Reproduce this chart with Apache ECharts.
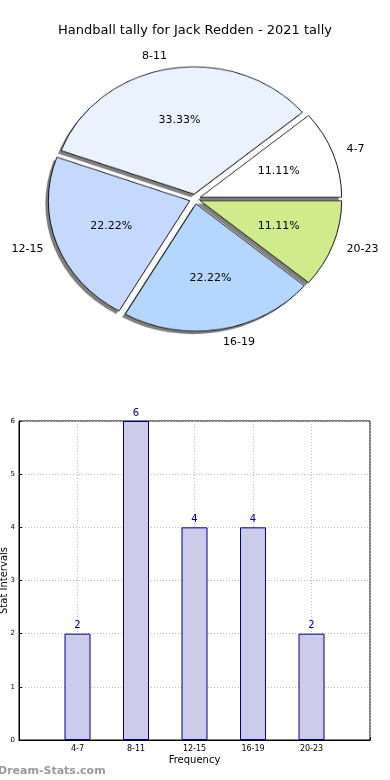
<!DOCTYPE html>
<html>
<head>
<meta charset="utf-8">
<script src="https://cdn.jsdelivr.net/npm/echarts@6/dist/echarts.min.js"></script>
<style>
html,body{margin:0;padding:0;background:#fff;}
#wrap{position:relative;width:390px;height:780px;overflow:hidden;}
#p{position:absolute;left:0;top:0;width:390px;height:400px;transform:scaleY(0.9);transform-origin:195px 199px;z-index:0;}
#c{position:absolute;left:0;top:0;width:390px;height:780px;z-index:1;}
</style>
</head>
<body>
<div id="wrap"><div id="p"></div><div id="c"></div></div>
<script>
var titleText = 'Handball tally for Jack Redden - 2021 tally';
var categories = ['4-7', '8-11', '12-15', '16-19', '20-23'];
var counts = [2, 6, 4, 4, 2];
var sliceColors = ['#ffffff', '#ebf2ff', '#c5d9ff', '#b5d7ff', '#d0eb8c'];
var yTicks = [0, 1, 2, 3, 4, 5, 6];
var xAxisName = 'Frequency';
var yAxisName = 'Stat Intervals';
var watermark = 'Dream-Stats.com';

var FONT = 'DejaVu Sans';
var CX = 195, CY = 199, R = 141.5, OFF = 5.5, K = 0.9;
var PCT_F = 1.14, NAME_F = 2.16;
var total = counts.reduce(function (a, b) { return a + b; }, 0);

function pieData(styled) {
  return categories.map(function (c, i) {
    var d = { name: c, value: counts[i], selected: true };
    if (styled) d.itemStyle = { color: sliceColors[i] };
    return d;
  });
}
function midSin(idx) {
  var cum = 0;
  for (var i = 0; i < idx; i++) cum += counts[i];
  var a = (cum + counts[idx] / 2) / total * 2 * Math.PI;
  return Math.sin(a);
}
function squashDy(idx, factor) {
  var d = R * factor / 2 + OFF;
  return d * midSin(idx) * (1 - K);
}

// Pie graphics (sectors only), squashed vertically to the ellipse of the reference
var pie = echarts.init(document.getElementById('p'), null, { renderer: 'canvas' });
pie.setOption({
  animation: false,
  series: [
    {
      type: 'pie', center: [CX - 3, CY + 3 / K], radius: [0, R],
      startAngle: 0, clockwise: false,
      selectedMode: 'multiple', selectedOffset: OFF,
      silent: true, z: 1,
      data: pieData(false),
      label: { show: false }, labelLine: { show: false },
      itemStyle: { color: 'rgba(0,0,0,0.5)', borderWidth: 0 },
      emphasis: { disabled: true }
    },
    {
      type: 'pie', center: [CX, CY], radius: [0, R],
      startAngle: 0, clockwise: false,
      selectedMode: 'multiple', selectedOffset: OFF,
      silent: true, z: 2,
      data: pieData(true),
      label: { show: false }, labelLine: { show: false },
      itemStyle: { borderColor: '#000', borderWidth: 0.9 },
      emphasis: { disabled: true }
    }
  ]
});

var xCats = [''].concat(categories).concat(['']);
var barVals = [null].concat(counts).concat([null]);

var chart = echarts.init(document.getElementById('c'), null, { renderer: 'canvas' });
chart.setOption({
  animation: false,
  backgroundColor: 'transparent',
  title: {
    text: titleText, left: 'center', top: 19,
    textStyle: { fontFamily: FONT, fontSize: 13, fontWeight: 'normal', color: '#000' }
  },
  graphic: [{
    type: 'text', left: -2, top: 766,
    style: { text: watermark, fill: '#999', font: 'bold 11px "DejaVu Sans"' }
  }],
  grid: {
    left: 19, right: 20, top: 421, bottom: 40,
    outerBoundsMode: 'none', containLabel: false,
    show: true, borderColor: '#000', borderWidth: 1, backgroundColor: 'transparent'
  },
  xAxis: {
    type: 'category', data: xCats, boundaryGap: false,
    name: xAxisName, nameLocation: 'middle', nameGap: 15,
    nameTextStyle: { fontFamily: FONT, fontSize: 10, color: '#000' },
    axisLine: { show: true, lineStyle: { color: '#000', width: 1 } },
    axisTick: { show: true, inside: true, length: 3, lineStyle: { color: '#000' } },
    axisLabel: { fontFamily: FONT, fontSize: 8, color: '#000', margin: 5, interval: 0 },
    splitLine: { show: true, lineStyle: { color: '#bbb', type: [1, 2], width: 1 } }
  },
  yAxis: {
    type: 'value', min: yTicks[0], max: yTicks[yTicks.length - 1], interval: 1,
    name: yAxisName, nameLocation: 'middle', nameGap: 10, nameMoveOverlap: false,
    nameTextStyle: { fontFamily: FONT, fontSize: 10, color: '#000' },
    axisLine: { show: true, lineStyle: { color: '#000', width: 1 } },
    axisTick: { show: true, inside: true, length: 3, lineStyle: { color: '#000' } },
    axisLabel: { fontFamily: FONT, fontSize: 7, color: '#000', margin: 4 },
    splitLine: { show: true, lineStyle: { color: '#bbb', type: [1, 2], width: 1 } }
  },
  series: [
    {
      type: 'pie', center: [CX, CY], radius: [0, R * PCT_F],
      startAngle: 0, clockwise: false,
      selectedMode: 'multiple', selectedOffset: OFF,
      avoidLabelOverlap: false, silent: true, z: 5,
      data: pieData(false),
      itemStyle: { color: 'rgba(0,0,0,0)', borderWidth: 0 },
      label: {
        show: true, position: 'inside', fontFamily: FONT, fontSize: 11, color: '#000',
        formatter: function (p) { return (p.value / total * 100).toFixed(2) + '%'; }
      },
      labelLayout: function (p) { return { dy: squashDy(p.dataIndex, PCT_F) }; },
      labelLine: { show: false },
      emphasis: { disabled: true }
    },
    {
      type: 'pie', center: [CX, CY], radius: [0, R * NAME_F],
      startAngle: 0, clockwise: false,
      selectedMode: 'multiple', selectedOffset: OFF,
      avoidLabelOverlap: false, silent: true, z: 5,
      data: pieData(false),
      itemStyle: { color: 'rgba(0,0,0,0)', borderWidth: 0 },
      label: {
        show: true, position: 'inside', fontFamily: FONT, fontSize: 11, color: '#000',
        formatter: '{b}'
      },
      labelLayout: function (p) {
        var r = p.labelRect;
        var mid = r.x + r.width / 2;
        return { dx: mid > CX ? r.width / 2 : -r.width / 2, dy: squashDy(p.dataIndex, NAME_F) };
      },
      labelLine: { show: false },
      emphasis: { disabled: true }
    },
    {
      type: 'bar', data: barVals, barWidth: 26, silent: true,
      itemStyle: { color: '#ccccea', borderColor: '#000080', borderWidth: 1 },
      label: {
        show: true, position: 'top', distance: 3, fontFamily: FONT, fontSize: 10, color: '#00008b'
      }
    }
  ]
});
</script>
</body>
</html>
